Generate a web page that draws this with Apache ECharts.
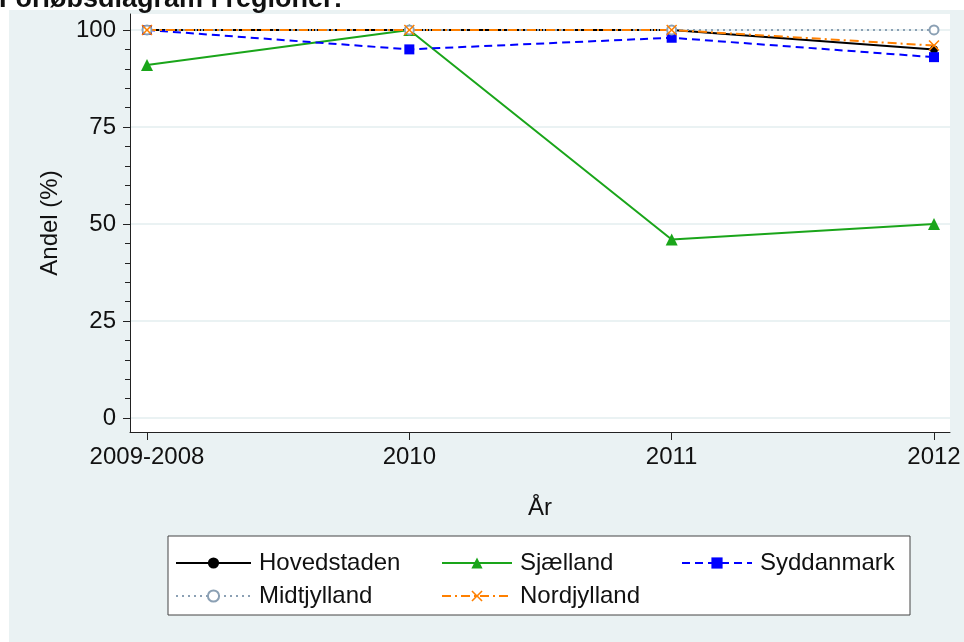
<!DOCTYPE html>
<html>
<head>
<meta charset="utf-8">
<script src="https://cdn.jsdelivr.net/npm/echarts@6/dist/echarts.min.js"></script>
<style>
  html, body { margin: 0; padding: 0; background: #fff; }
  #chart { width: 964px; height: 642px; }
</style>
</head>
<body>
<div id="chart"></div>
<script>
  // data
  const years = ['2009-2008', '2010', '2011', '2012'];
  const hovedstaden = [100, 100, 100, 95];
  const sjaelland = [91, 100, 46, 50];
  const syddanmark = [100, 95, 98, 93];
  const midtjylland = [100, 100, 100, 100];
  const nordjylland = [100, 100, 100, 96];
  const yTicks = [0, 25, 50, 75, 100];

  const bg = '#eaf2f3';
  const font = 'Liberation Sans, Arial, sans-serif';
  const crossPath = 'path://M0,1 L1,0 L5,4 L9,0 L10,1 L6,5 L10,9 L9,10 L5,6 L1,10 L0,9 L4,5 Z';

  let minorTicks = [];
  for (let v = 0; v <= 100; v += 5) {
    if (v % 25 != 0) minorTicks.push(v);
  }

  function pairs(arr) {
    return arr.map((v, i) => [i, v]);
  }

  let legendText = { fontSize: 24, color: '#111', padding: [0, 0, 0, 3] };

  let myChart = echarts.init(document.getElementById('chart'));
  let option = {
    backgroundColor: '#fff',
    animation: false,
    textStyle: { fontFamily: font },
    graphic: [
      {
        type: 'rect',
        z: -10,
        silent: true,
        shape: { x: 9, y: 10, width: 955, height: 632 },
        style: { fill: bg }
      },
      {
        type: 'text',
        left: -1,
        top: -14,
        style: {
          text: 'Forløbsdiagram i regioner:',
          font: 'bold 27px ' + font,
          fill: '#111'
        }
      },
      {
        type: 'rect',
        z: 0,
        silent: true,
        shape: { x: 168, y: 536, width: 742, height: 79 },
        style: { fill: '#fff', stroke: '#444', lineWidth: 1 }
      }
    ],
    grid: {
      left: 130,
      right: 14,
      top: 14,
      bottom: 210,
      show: true,
      backgroundColor: '#fff',
      borderWidth: 0
    },
    legend: [
      {
        data: ['Hovedstaden', 'Midtjylland'],
        orient: 'vertical',
        left: 170,
        top: 546,
        itemWidth: 75,
        itemHeight: 14,
        itemGap: 9,
        textStyle: legendText
      },
      {
        data: ['Sjælland', 'Nordjylland'],
        orient: 'vertical',
        left: 436,
        top: 546,
        itemWidth: 70,
        itemHeight: 14,
        itemGap: 9,
        textStyle: legendText
      },
      {
        data: ['Syddanmark'],
        orient: 'vertical',
        left: 676,
        top: 546,
        itemWidth: 70,
        itemHeight: 14,
        itemGap: 9,
        textStyle: legendText
      }
    ],
    xAxis: {
      type: 'value',
      min: -0.0648,
      max: 3.061,
      name: 'År',
      nameLocation: 'middle',
      nameGap: 64,
      nameTextStyle: { fontSize: 24, color: '#111' },
      axisLine: { show: true, onZero: false, lineStyle: { color: '#222', width: 1 } },
      axisTick: {
        show: true,
        length: 8,
        customValues: [0, 1, 2, 3],
        lineStyle: { color: '#222' }
      },
      axisLabel: {
        fontSize: 24,
        color: '#111',
        margin: 13,
        customValues: [0, 1, 2, 3],
        formatter: v => years[Math.round(v)]
      },
      splitLine: { show: false }
    },
    yAxis: [
      {
        type: 'value',
        min: -3.61,
        max: 104.12,
        name: 'Andel (%)',
        nameLocation: 'middle',
        nameGap: 68,
        nameTextStyle: { fontSize: 24, color: '#111' },
        axisLine: { show: true, onZero: false, lineStyle: { color: '#222', width: 1 } },
        axisTick: {
          show: true,
          length: 7,
          customValues: yTicks,
          lineStyle: { color: '#222' }
        },
        axisLabel: {
          fontSize: 24,
          color: '#111',
          margin: 14,
          customValues: yTicks
        },
        splitLine: { show: true, lineStyle: { color: bg, width: 2 } }
      },
      {
        // minor ticks only
        type: 'value',
        position: 'left',
        min: -3.61,
        max: 104.12,
        axisLine: { show: false, onZero: false },
        axisTick: {
          show: true,
          length: 5,
          customValues: minorTicks,
          lineStyle: { color: '#222' }
        },
        axisLabel: { show: false },
        splitLine: { show: false }
      }
    ],
    series: [
      {
        name: 'Hovedstaden',
        type: 'line',
        data: pairs(hovedstaden),
        symbol: 'circle',
        symbolSize: 8,
        itemStyle: { color: '#000' },
        lineStyle: { color: '#000', width: 2 }
      },
      {
        name: 'Sjælland',
        type: 'line',
        data: pairs(sjaelland),
        symbol: 'triangle',
        symbolSize: 12,
        itemStyle: { color: '#1aa51a' },
        lineStyle: { color: '#1aa51a', width: 2 }
      },
      {
        name: 'Syddanmark',
        type: 'line',
        data: pairs(syddanmark),
        symbol: 'rect',
        symbolSize: 10,
        itemStyle: { color: '#0000ff' },
        lineStyle: { color: '#0000ff', width: 2, type: [8, 5] }
      },
      {
        name: 'Midtjylland',
        type: 'line',
        data: pairs(midtjylland),
        symbol: 'emptyCircle',
        symbolSize: 9,
        itemStyle: { color: '#8ba0b4', borderWidth: 2 },
        lineStyle: { color: '#8ba0b4', width: 2, type: [2, 4] }
      },
      {
        name: 'Nordjylland',
        type: 'line',
        data: pairs(nordjylland),
        symbol: crossPath,
        symbolSize: 11,
        itemStyle: { color: '#ff8000' },
        lineStyle: { color: '#ff8000', width: 2, type: [9, 4, 2, 4] }
      }
    ]
  };
  myChart.setOption(option);
</script>
</body>
</html>
